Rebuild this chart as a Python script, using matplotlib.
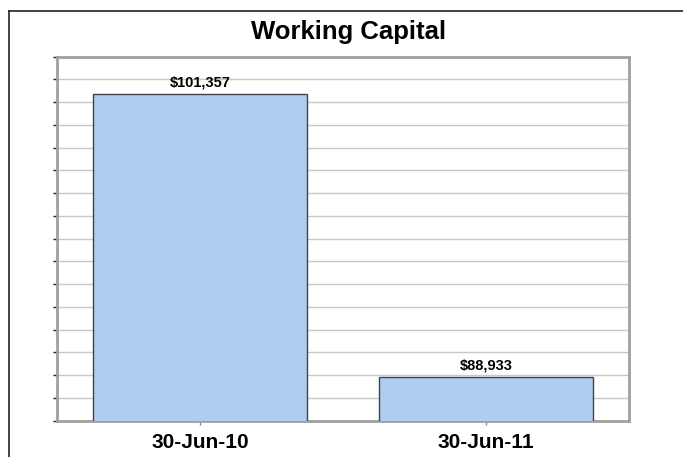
import matplotlib
matplotlib.use('Agg')
import matplotlib.pyplot as plt
from matplotlib.lines import Line2D

categories = ['30-Jun-10', '30-Jun-11']
values = [101357, 88933]
labels = ['$101,357', '$88,933']

plt.rcParams['font.family'] = ['Liberation Sans Narrow', 'DejaVu Sans Condensed', 'Liberation Sans', 'DejaVu Sans']

fig = plt.figure(figsize=(6.83, 4.57), dpi=100)
ax = fig.add_axes([0.0835, 0.0794, 0.8375, 0.7966])

x = range(len(categories))
ax.bar(x, values, width=0.75, color='#b0cdf0', edgecolor='#3c4450', linewidth=1.0, zorder=3)
for xi, v, lab in zip(x, values, labels):
    ax.annotate(lab, (xi, v), xytext=(0, 3), textcoords='offset points',
                ha='center', va='bottom', fontsize=10.5, fontweight='bold', zorder=4)

ax.set_ylim(87000, 103000)
ax.set_xlim(-0.5, 1.5)
ax.set_yticks(range(87000, 103001, 1000))
ax.set_yticklabels([])
ax.set_xticks(list(x))
ax.set_xticklabels(categories, fontsize=15, fontweight='bold')
ax.grid(axis='y', color='#c8c8c8', linewidth=1.0, zorder=0)
ax.tick_params(axis='y', length=3, width=1, color='#222222', direction='out')
ax.tick_params(axis='x', length=3, width=1, color='#888888', direction='out', pad=6)
for s in ax.spines.values():
    s.set_color('#a0a0a0')
    s.set_linewidth(2)

fig.text(349 / 683, 1 - 32 / 457, 'Working Capital', ha='center', va='center',
         fontsize=18.5, fontweight='bold')

# outer frame
fig.add_artist(Line2D([9 / 683, 1], [1 - 11 / 457, 1 - 11 / 457], color='#222222', linewidth=1.2))
fig.add_artist(Line2D([9 / 683, 9 / 683], [0, 1 - 11 / 457], color='#222222', linewidth=1.2))

fig.savefig('out.png', dpi=100)
